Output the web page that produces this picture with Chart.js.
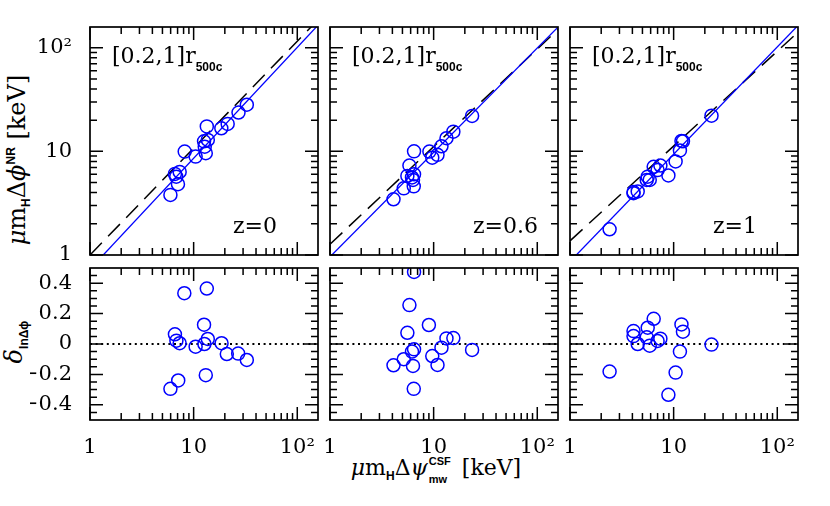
<!DOCTYPE html>
<html>
<head>
<meta charset="utf-8">
<script src="https://cdn.jsdelivr.net/npm/chart.js@4.4.1/dist/chart.umd.min.js"></script>
<style>
  body { margin: 0; background: #fff; }
  #wrap { position: relative; width: 830px; height: 506px; overflow: hidden; font-family: "DejaVu Serif", serif; color: #000; }
  #wrap canvas { position: absolute; }
  .lab { position: absolute; font-size: 22px; line-height: 22px; white-space: nowrap; }
  .s { font-family: "Liberation Sans", Arial, sans-serif; font-weight: bold; font-size: 12px; position: relative; font-style: normal; }
  .rot { position: absolute; white-space: nowrap; font-size: 24px; line-height: 24px; transform: translate(-50%, -50%) rotate(-90deg); }
  .stk { display: inline-block; position: relative; width: 27px; height: 1px; }
  .stk span { position: absolute; left: 1px; line-height: 11px; font-size: 11px; }
</style>
</head>
<body>
<div id="wrap">
  <div class="rot" style="left:19px; top:160px;"><i>μ</i>m<span class="s" style="top:5px">H</span>Δ<i>ϕ</i><span class="s" style="top:-10px">NR</span> [keV]</div>
  <div class="rot" style="left:16px; top:342px;"><i>δ</i><span class="s" style="top:6px">lnΔϕ</span></div>
  <div class="lab" style="left:436px; top:457px; transform:translateX(-50%);"><i>μ</i>m<span class="s" style="top:5px">H</span>Δ<i>ψ</i><span class="stk"><span class="s" style="top:-18px">CSF</span><span class="s" style="top:0px">mw</span></span> [keV]</div>
</div>
<script>
// axis ranges and ticks
const xMin = 1, xMax = 158.5;
const logMajor = [1, 10, 100];
const logMinor = [2, 3, 4, 5, 6, 7, 8, 9, 20, 30, 40, 50, 60, 70, 80, 90];
const logLabels = ['1', '10', '10²'];
const resMin = -0.5, resMax = 0.5;
const resMajor = [-0.4, -0.2, 0, 0.2, 0.4];
const resMinor = [-0.45, -0.35, -0.3, -0.25, -0.15, -0.1, -0.05, 0.05, 0.1, 0.15, 0.25, 0.3, 0.35, 0.45];
const resLabels = ['−0.4', '−0.2', '0', '0.2', '0.4'];
const zLabels = ['z=0', 'z=0.6', 'z=1'];

// z=0
const z0X = [5.97, 7.06, 6.6, 6.8, 7.33, 8.2, 10.45, 12.6, 12.8, 13.1, 13.7, 13.4, 18.5, 21.3, 27.1, 32.6];
const z0Y = [3.8, 4.82, 6.06, 5.7, 6.34, 9.95, 8.9, 12.5, 11.1, 9.6, 12.9, 17.4, 16.7, 18.4, 23.7, 28.2];
const z0ResX = [8.13, 13.4, 12.6, 6.6, 6.82, 7.33, 10.45, 12.7, 13.7, 18.6, 20.9, 26.9, 32.6, 13.1, 7.1, 5.97];
const z0Res = [0.334, 0.365, 0.127, 0.064, 0.022, 0.005, -0.018, 0.0, 0.033, 0.005, -0.066, -0.063, -0.105, -0.205, -0.24, -0.295];
// z=0.6
const z06X = [4.1, 5.15, 5.84, 6.47, 5.58, 6.18, 6.47, 6.32, 6.43, 9.1, 9.7, 10.9, 11.9, 13.3, 15.5, 23.5];
const z06Y = [3.45, 4.4, 7.3, 10.0, 5.8, 5.6, 6.0, 5.3, 4.6, 9.95, 8.7, 9.25, 11.2, 13.4, 15.5, 22.0];
const z06ResX = [6.47, 5.84, 9.0, 5.58, 13.3, 15.5, 11.9, 23.5, 6.47, 6.18, 5.15, 4.1, 6.32, 9.7, 10.9, 6.43];
const z06Res = [0.474, 0.256, 0.125, 0.074, 0.037, 0.039, -0.024, -0.039, -0.035, -0.05, -0.1, -0.14, -0.144, -0.079, -0.138, -0.295];
// z=1
const z1X = [2.41, 6.42, 5.62, 4.1, 4.1, 4.5, 5.5, 5.88, 7.45, 7.0, 11.9, 12.3, 11.5, 10.45, 8.9, 23.2];
const z1Y = [1.77, 7.1, 5.7, 4.05, 3.95, 4.1, 5.3, 5.3, 7.3, 6.6, 12.6, 12.5, 10.2, 8.0, 5.85, 22.1];
const z1ResX = [2.41, 6.42, 5.62, 4.1, 4.1, 4.5, 5.5, 5.88, 7.45, 7.0, 11.9, 12.3, 11.5, 10.45, 8.9, 23.2];
const z1Res = [-0.181, 0.166, 0.107, 0.085, 0.052, 0.0, 0.044, -0.011, 0.035, 0.02, 0.129, 0.081, -0.05, -0.188, -0.334, -0.004];

// fitted lines, values at the two ends of the x range
const lineX = [1, 158.5];
const fitY = [[0.73, 165], [0.96, 158], [0.865, 164]];
const dashY = [[1.0, 186], [1.27, 150], [1.37, 141]];
const zeroY = [0, 0];

const topX = [z0X, z06X, z1X], topY = [z0Y, z06Y, z1Y];
const botX = [z0ResX, z06ResX, z1ResX], botY = [z0Res, z06Res, z1Res];

const panelLeft = [90, 330, 570];
const panelW = 228;
const rowTop = [27, 268];
const rowH = [228, 152];
const padL = 60, padR = 10, padT = 10, padB = 40;
const tickFont = { family: 'DejaVu Serif', size: 21 };
const wrap = document.getElementById('wrap');

const zip = (xs, ys) => xs.map((x, i) => ({ x: x, y: ys[i] }));

// frame with inward ticks on all four sides
const frameTicks = {
  id: 'frameTicks',
  afterDatasetsDraw(chart, args, opts) {
    const ctx = chart.ctx, a = chart.chartArea;
    const xs = chart.scales.x, ys = chart.scales.y;
    ctx.save();
    ctx.strokeStyle = '#000';
    ctx.lineWidth = 1.5;
    ctx.beginPath();
    const xt = (vals, len) => vals.forEach(v => {
      const p = xs.getPixelForValue(v);
      ctx.moveTo(p, a.bottom); ctx.lineTo(p, a.bottom - len);
      ctx.moveTo(p, a.top); ctx.lineTo(p, a.top + len);
    });
    const yt = (vals, len) => vals.forEach(v => {
      const p = ys.getPixelForValue(v);
      ctx.moveTo(a.left, p); ctx.lineTo(a.left + len, p);
      ctx.moveTo(a.right, p); ctx.lineTo(a.right - len, p);
    });
    xt(logMajor, 13); xt(logMinor, 7);
    yt(opts.yMajor, 13); yt(opts.yMinor, 7);
    ctx.stroke();
    ctx.lineWidth = 1.7;
    ctx.strokeRect(a.left, a.top, a.right - a.left, a.bottom - a.top);
    ctx.restore();
  }
};

function makePanel(col, row) {
  const cv = document.createElement('canvas');
  cv.width = panelW + padL + padR;
  cv.height = rowH[row] + padT + padB;
  cv.style.left = (panelLeft[col] - padL) + 'px';
  cv.style.top = (rowTop[row] - padT) + 'px';
  wrap.appendChild(cv);

  const isTop = row === 0;
  const pts = {
    data: isTop ? zip(topX[col], topY[col]) : zip(botX[col], botY[col]),
    pointRadius: 6.5, pointHoverRadius: 6.5, pointBorderWidth: 1.5,
    pointBorderColor: '#0000ff', pointBackgroundColor: 'rgba(0,0,0,0)',
    showLine: false, clip: 0
  };
  let datasets;
  if (isTop) {
    datasets = [pts,
      { data: zip(lineX, fitY[col]), showLine: true, pointRadius: 0, borderColor: '#0000ff', borderWidth: 1.3, clip: 0 },
      { data: zip(lineX, dashY[col]), showLine: true, pointRadius: 0, borderColor: '#000', borderWidth: 1.5, borderDash: [17, 9], clip: 0 }];
  } else {
    datasets = [pts,
      { data: zip(lineX, zeroY), showLine: true, pointRadius: 0, borderColor: '#000', borderWidth: 2, borderDash: [2, 3.6], clip: 0 }];
  }
  const yMajor = isTop ? logMajor : resMajor;
  const yLabels = isTop ? logLabels : resLabels;

  new Chart(cv, {
    type: 'scatter',
    data: { datasets: datasets },
    options: {
      responsive: false, animation: false, devicePixelRatio: 1,
      events: [],
      layout: { padding: { left: 0, right: padR, top: padT, bottom: 0 } },
      plugins: {
        legend: { display: false }, tooltip: { enabled: false },
        frameTicks: { yMajor: yMajor, yMinor: isTop ? logMinor : resMinor }
      },
      scales: {
        x: {
          type: 'logarithmic', min: xMin, max: xMax,
          grid: { display: false }, border: { display: false },
          afterBuildTicks: s => { s.ticks = logMajor.map(v => ({ value: v })); },
          afterFit: s => { s.height = padB; s.paddingLeft = s.paddingRight = s.paddingTop = s.paddingBottom = 0; },
          ticks: { display: !isTop, autoSkip: false, maxRotation: 0, padding: 7, color: '#000', font: tickFont,
                   callback: (v, i) => logLabels[i] }
        },
        y: {
          type: isTop ? 'logarithmic' : 'linear',
          min: isTop ? xMin : resMin, max: isTop ? xMax : resMax,
          grid: { display: false }, border: { display: false },
          afterBuildTicks: s => { s.ticks = yMajor.map(v => ({ value: v })); },
          afterFit: s => { s.width = padL; s.paddingLeft = s.paddingRight = s.paddingTop = s.paddingBottom = 0; },
          ticks: { display: col === 0, autoSkip: false, padding: 10, color: '#000', font: tickFont,
                   callback: (v, i) => yLabels[i] }
        }
      }
    },
    plugins: [frameTicks]
  });

  if (isTop) {
    const t = document.createElement('div');
    t.className = 'lab';
    t.style.left = (panelLeft[col] + 22) + 'px';
    t.style.top = '45px';
    t.innerHTML = '[0.2,1]r<span class="s" style="top:8px">500c</span>';
    wrap.appendChild(t);
    const z = document.createElement('div');
    z.className = 'lab';
    z.style.left = (panelLeft[col] + 143) + 'px';
    z.style.top = '215px';
    z.textContent = zLabels[col];
    wrap.appendChild(z);
  }
}

for (let r = 0; r < 2; r++) {
  for (let c = 0; c < 3; c++) makePanel(c, r);
}
</script>
</body>
</html>
